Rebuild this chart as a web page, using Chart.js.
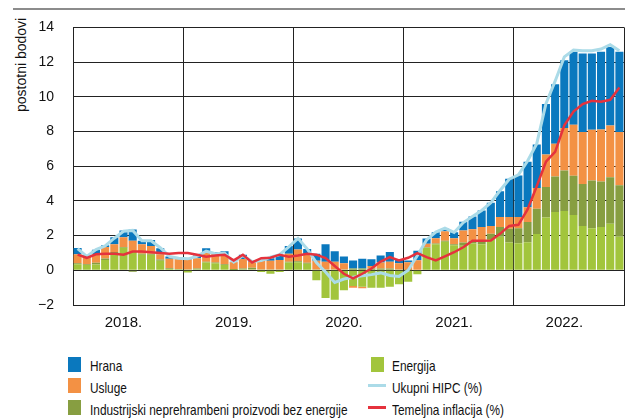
<!DOCTYPE html>
<html lang="hr">

<head>
  <meta charset="UTF-8">
  <title>Doprinosi inflaciji</title>
  <script src="https://cdn.jsdelivr.net/npm/chart.js"></script>
  <style>
    body { margin: 0; background: #fff; font-family: 'Liberation Sans', Arial, sans-serif; color: #111; }
    #wrap { position: relative; width: 633px; height: 419px; overflow: hidden; }
    #rule { position: absolute; left: 13px; top: 8px; width: 612px; height: 2px; background: #8c8c8c; }
    #ytitle { position: absolute; left: 0; top: 0; transform-origin: 0 0; transform: translate(13px, 112px) rotate(-90deg); font-size: 14px; line-height: 16px; white-space: nowrap; }
    canvas { position: absolute; left: 0; top: 0; }
    .item { position: absolute; font-size: 15px; line-height: 20px; height: 20px; white-space: nowrap; transform: scaleX(0.79); transform-origin: 0 0; }
    .box { position: absolute; width: 13px; height: 15px; }
    .ln { position: absolute; width: 18px; height: 3px; }
  </style>
</head>

<body>
  <div id="wrap">
    <div id="rule"></div>
    <div id="ytitle">postotni bodovi</div>
    <canvas id="chart" width="633" height="340"></canvas>

    <!-- legenda -->
    <div class="box" style="left:68px;top:357px;background:#0a78be"></div>
    <div class="item" style="left:90px;top:356px">Hrana</div>
    <div class="box" style="left:68px;top:378px;background:#f39144"></div>
    <div class="item" style="left:90px;top:378px">Usluge</div>
    <div class="box" style="left:68px;top:400px;background:#879e41"></div>
    <div class="item" style="left:90px;top:400px">Industrijski neprehrambeni proizvodi bez energije</div>

    <div class="box" style="left:371px;top:357px;background:#a2c53c"></div>
    <div class="item" style="left:392px;top:356px">Energija</div>
    <div class="ln" style="left:368px;top:384px;background:#abdbe8"></div>
    <div class="item" style="left:392px;top:378px">Ukupni HIPC (%)</div>
    <div class="ln" style="left:368px;top:406px;background:#e5323d"></div>
    <div class="item" style="left:392px;top:400px">Temeljna inflacija (%)</div>
  </div>

  <script>
    const years = ['2018', '2019', '2020', '2021', '2022'];
    const months = [];
    years.forEach(y => { for (let m = 1; m <= 12; m++) months.push(y + '-' + m); });

    const energija = [
      0.35, 0.3, 0.33, 0.6, 1.0, 1.3, 1.1, 0.9, 0.9, 0.55, 0.08, 0.05,
      -0.13, 0.05, 0.45, 0.4, 0.3, 0.02, 0.05, 0.05, -0.1, -0.2, -0.1, 0.45,
      0.47, 0.38, -0.57, -1.6, -1.7, -1.15, -0.9, -0.95, -1.0, -1.0, -0.95, -0.8,
      -0.66, -0.23, 1.3, 1.5, 1.65, 1.45, 1.42, 1.55, 1.5, 1.8, 1.94, 1.6,
      1.56, 1.61, 2.09, 3.04, 3.36, 3.42, 3.19, 2.56, 2.43, 2.5, 2.69, 1.94
    ];
    const industrijski = [
      0.05, 0.05, 0.1, 0.08, 0.05, 0.05, -0.08, 0.05, 0.05, 0.07, 0.04, 0.03,
      0.04, 0.05, 0.05, 0.05, 0.05, 0.05, 0.05, 0.1, 0.05, 0.05, 0.05, 0.05,
      0.05, 0.05, 0.05, 0.05, 0.05, 0.05, 0.1, 0.1, 0.1, 0.1, 0.1, 0.05,
      0.02, 0.03, 0.03, 0.05, 0.05, 0.05, 0.18, 0.15, 0.2, 0.3, 0.56, 0.8,
      0.87, 1.18, 1.46, 1.76, 2.05, 2.33, 2.26, 2.41, 2.75, 2.62, 2.68, 2.96
    ];
    const usluge = [
      0.52, 0.43, 0.5, 0.67, 0.45, 0.55, 0.6, 0.55, 0.45, 0.3, 0.55, 0.55,
      0.58, 0.6, 0.5, 0.5, 0.55, 0.4, 0.55, 0.35, 0.5, 0.5, 0.55, 0.45,
      0.68, 0.47, 0.5, 0.45, 0.45, 0.35, -0.1, -0.08, 0.15, 0.35, 0.4, 0.35,
      0.45, 0.55, 0.2, 0.3, 0.55, 0.35, 0.7, 0.67, 0.8, 0.46, 0.57, 0.67,
      0.64, 0.85, 1.19, 1.88, 1.89, 2.45, 2.94, 3.0, 2.92, 3.0, 2.98, 3.07
    ];
    const hrana = [
      0.37, 0.07, 0.25, 0.1, 0.4, 0.4, 0.65, 0.2, 0.35, 0.35, 0.13, 0.05,
      0.05, 0.15, 0.27, 0.1, 0.2, 0.03, 0.25, 0.05, 0.05, 0.15, 0.25, 0.45,
      0.64, 0.33, 0.4, 1.0, 0.6, 0.4, 0.47, 0.56, 0.38, 0.4, 0.55, 0.2,
      0.1, 0.55, 0.3, 0.35, 0.15, 0.35, 0.5, 0.73, 0.95, 1.34, 1.48, 2.2,
      2.39, 2.62, 2.51, 2.9, 3.42, 3.9, 4.21, 4.52, 4.39, 4.48, 4.52, 4.63
    ];
    const hipc = [
      1.25, 0.8, 1.2, 1.4, 1.85, 2.25, 2.3, 1.7, 1.7, 1.3, 0.8, 0.7,
      0.66, 0.8, 1.1, 0.95, 1.0, 0.47, 0.85, 0.5, 0.57, 0.75, 0.9, 1.35,
      1.84, 1.23, 0.45, -0.1, -0.7, -0.5, -0.4, -0.32, -0.25, -0.15, -0.3, -0.35,
      0.0, 0.85, 1.75, 2.2, 2.43, 2.18, 2.75, 3.1, 3.45, 3.9, 4.6, 5.25,
      5.5, 6.3, 7.3, 9.6, 10.9, 12.3, 12.7, 12.65, 12.65, 12.75, 13.0, 12.65
    ];
    const temeljna = [
      0.9, 0.72, 0.92, 0.95, 0.95, 0.9, 1.08, 1.08, 1.04, 1.0, 0.95, 1.0,
      1.0, 0.9, 0.78, 0.85, 0.9, 0.57, 0.9, 0.45, 0.7, 0.72, 0.9, 0.78,
      0.85, 0.95, 0.9, 0.7, 0.25, -0.2, -0.47, -0.2, 0.1, 0.5, 0.76, 0.57,
      0.72, 0.99, 0.76, 0.57, 0.8, 1.04, 1.33, 1.7, 1.7, 1.72, 2.1, 2.56,
      2.62, 3.51, 4.84, 6.26, 6.83, 8.35, 9.15, 9.58, 9.77, 9.72, 9.83, 10.53
    ];
    const yTicks = [-2, 0, 2, 4, 6, 8, 10, 12, 14];

    const font = "'Liberation Sans', Arial, sans-serif";
    const gridColor = '#222';

    const bar = (label, data, color) => ({
      type: 'bar', label, data, backgroundColor: color,
      stack: 'doprinosi', order: 3,
      barPercentage: 1, categoryPercentage: 0.88, borderWidth: 0
    });

    new Chart(document.getElementById('chart'), {
      data: {
        labels: months,
        datasets: [
          bar('Energija', energija, '#a2c53c'),
          bar('Industrijski neprehrambeni proizvodi bez energije', industrijski, '#879e41'),
          bar('Usluge', usluge, '#f39144'),
          bar('Hrana', hrana, '#0a78be'),
          {
            type: 'line', label: 'Ukupni HIPC (%)', data: hipc, stack: 'hipc', order: 2,
            borderColor: '#abdbe8', borderWidth: 3, pointRadius: 0, tension: 0
          },
          {
            type: 'line', label: 'Temeljna inflacija (%)', data: temeljna, stack: 'core', order: 1,
            borderColor: '#e5323d', borderWidth: 2.5, pointRadius: 0, tension: 0
          }
        ]
      },
      options: {
        responsive: false,
        animation: false,
        layout: { padding: { top: 24, right: 7, left: 0, bottom: 0 } },
        plugins: { legend: { display: false }, tooltip: { enabled: false } },
        scales: {
          x: { type: 'category', display: false, stacked: true, offset: true },
          xYear: {
            type: 'linear', position: 'bottom', min: 0, max: 60,
            afterBuildTicks: (axis) => {
              axis.ticks = [0, 5.5, 12, 17.5, 24, 29.5, 36, 41.5, 48, 53.5, 60].map(v => ({ value: v }));
            },
            afterFit: (axis) => { axis.height = 35; },
            grid: {
              drawTicks: false,
              color: (ctx) => (ctx.tick && ctx.tick.value % 12 === 0) ? gridColor : 'transparent'
            },
            border: { display: true, color: gridColor },
            ticks: {
              autoSkip: false, maxRotation: 0, padding: 9,
              color: '#111', font: { family: font, size: 15 },
              callback: (v) => (v % 12 === 5.5) ? years[Math.floor(v / 12)] + '.' : ''
            }
          },
          y: {
            stacked: true, min: -2, max: 14,
            afterBuildTicks: (axis) => { axis.ticks = yTicks.map(v => ({ value: v })); },
            afterFit: (axis) => { axis.width = 73; },
            grid: { drawTicks: false, color: gridColor },
            border: { display: true, color: gridColor },
            ticks: {
              padding: 19, color: '#111', font: { family: font, size: 14 },
              callback: (v) => v < 0 ? '\u2212' + Math.abs(v) : v
            }
          }
        }
      }
    });
  </script>
</body>

</html>
